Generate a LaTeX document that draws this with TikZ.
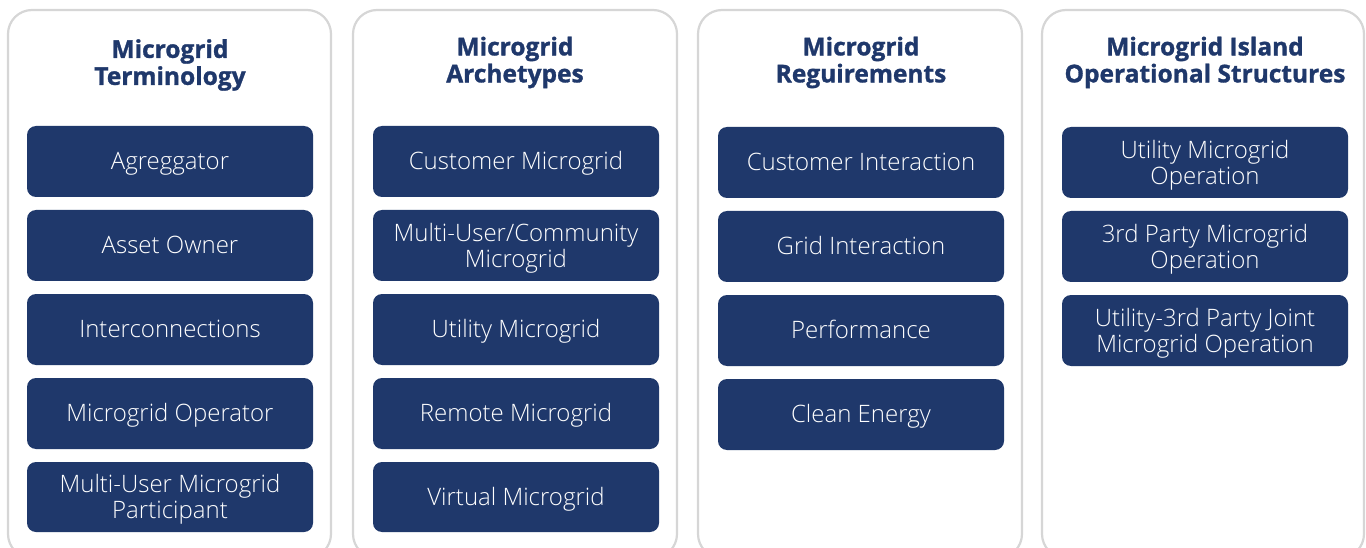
\documentclass[tikz,border=0pt]{standalone}
\usepackage{fontspec}
\setmainfont{Open Sans}
\newfontfamily\lightfont{Open Sans Light}
\newfontfamily\heavyfont[BoldFeatures={FakeBold=1.2}]{Open Sans}
\definecolor{navy}{HTML}{1F386B}
\definecolor{panelgray}{HTML}{D6D6D6}
\tikzset{
  panel/.style={draw=panelgray, line width=2.2pt, rounded corners=24pt, fill=white},
  itembox/.style={fill=navy, rounded corners=9pt, minimum width=286pt, minimum height=71pt, inner sep=0pt},
  boxtext/.style={text=white, font=\lightfont\fontsize{24}{26}\selectfont, align=center, inner sep=0pt, yshift=-2.5pt},
  oneline/.style={boxtext, text height=17pt, text depth=0pt, yshift=3pt},
  ttl/.style={text=navy, font=\heavyfont\bfseries\fontsize{24.5}{27}\selectfont, align=center}
}
\begin{document}
\begin{tikzpicture}[x=1pt,y=-1pt]
\useasboundingbox (0,0) rectangle (1366,548);
% panels
\draw[panel] (8,10) rectangle (331,558);
\draw[panel] (353,10) rectangle (677,558);
\draw[panel] (698,10) rectangle (1022,558);
\draw[panel] (1042,10) rectangle (1364,558);
% titles
\node[ttl] (t1) at (170,65) {Microgrid\\Terminology};
\node[ttl] (t2) at (515,62.5) {Microgrid\\Archetypes};
\node[ttl] (t3) at (861,62.5) {Microgrid\\Reguirements};
\node[ttl] (t4) at (1205,62.5) {Microgrid Island\\Operational Structures};
% column 1
\node[itembox] (a1) at (170,161.5) {};
\node[oneline] (a1t) at (a1) {Agreggator};
\node[itembox] (a2) at (170,245.5) {};
\node[oneline] (a2t) at (a2) {Asset Owner};
\node[itembox] (a3) at (170,329.5) {};
\node[oneline] (a3t) at (a3) {Interconnections};
\node[itembox] (a4) at (170,413.5) {};
\node[oneline] (a4t) at (a4) {Microgrid Operator};
\node[itembox, minimum height=70pt] (a5) at (170,497) {};
\node[boxtext] (a5t) at (a5) {Multi-User Microgrid\\Participant};
% column 2
\node[itembox] (b1) at (516,161.5) {};
\node[oneline] (b1t) at (b1) {Customer Microgrid};
\node[itembox] (b2) at (516,245.5) {};
\node[boxtext] (b2t) at (b2) {Multi-User/Community\\Microgrid};
\node[itembox] (b3) at (516,329.5) {};
\node[oneline] (b3t) at (b3) {Utility Microgrid};
\node[itembox] (b4) at (516,413.5) {};
\node[oneline] (b4t) at (b4) {Remote Microgrid};
\node[itembox, minimum height=70pt] (b5) at (516,497) {};
\node[oneline] (b5t) at (b5) {Virtual Microgrid};
% column 3
\node[itembox] (c1) at (861,162.5) {};
\node[oneline] (c1t) at (c1) {Customer Interaction};
\node[itembox] (c2) at (861,246.5) {};
\node[oneline] (c2t) at (c2) {Grid Interaction};
\node[itembox] (c3) at (861,330.5) {};
\node[oneline] (c3t) at (c3) {Performance};
\node[itembox] (c4) at (861,414.5) {};
\node[oneline] (c4t) at (c4) {Clean Energy};
% column 4
\node[itembox] (d1) at (1205,162.5) {};
\node[boxtext] (d1t) at (d1) {Utility Microgrid\\Operation};
\node[itembox] (d2) at (1205,246.5) {};
\node[boxtext] (d2t) at (d2) {3rd Party Microgrid\\Operation};
\node[itembox] (d3) at (1205,330.5) {};
\node[boxtext] (d3t) at (d3) {Utility-3rd Party Joint\\Microgrid Operation};
\end{tikzpicture}
\end{document}
